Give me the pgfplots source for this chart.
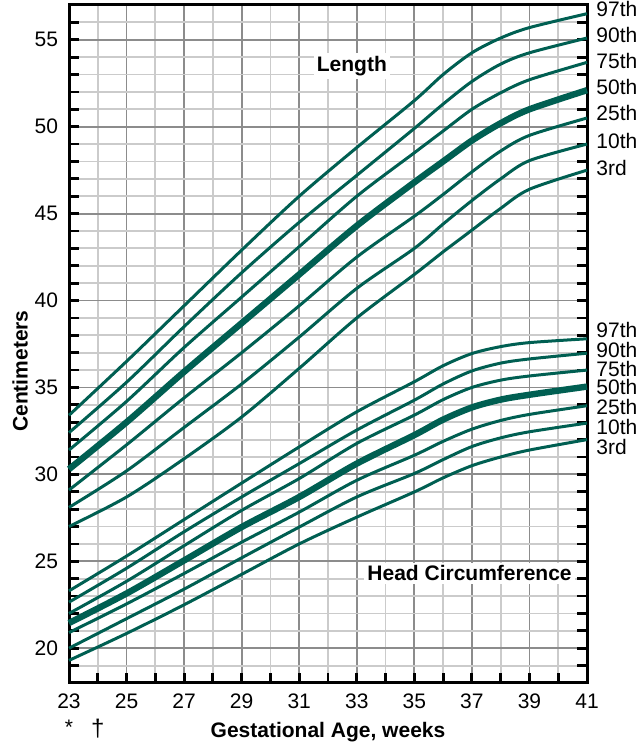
\documentclass[border=0pt]{standalone}
\usepackage{pgfplots}
\usepackage{pgfplotstable}
\pgfplotsset{compat=1.18}
\usepackage{fontspec}
\setmainfont{Liberation Sans}
\definecolor{curve}{HTML}{005F52}
\definecolor{gmajor}{HTML}{8C8C8C}
\definecolor{gminor}{HTML}{CBCBCB}

\pgfplotstableread{
wk p3 p10 p25 p50 p75 p90 p97
23 27.0 28.1 29.1 30.3 31.4 32.4 33.4
25 28.7 30.2 31.7 33.0 34.2 35.3 36.5
27 30.9 32.7 34.4 35.9 37.3 38.5 39.7
29 33.3 35.2 37.0 38.7 40.2 41.6 42.9
31 36.1 37.9 39.7 41.5 43.1 44.5 46.0
33 39.0 40.7 42.5 44.3 46.0 47.2 48.8
35 41.5 43.0 44.85 46.8 48.5 49.9 51.5
36 42.8 44.4 46.1 48.0 49.75 51.3 53.0
37 44.05 45.75 47.4 49.2 51.0 52.6 54.25
38 45.3 47.0 48.6 50.2 51.95 53.6 55.1
39 46.4 48.05 49.5 51.0 52.7 54.25 55.7
41 47.5 49.0 50.5 52.1 53.7 55.1 56.5
}\lengthtab

\pgfplotstableread{
wk p3 p10 p25 p50 p75 p90 p97
23 19.3 20.0 20.9 21.45 22.0 22.65 23.3
25 20.85 21.7 22.55 23.15 23.85 24.6 25.3
27 22.5 23.4 24.3 25.05 25.9 26.7 27.4
29 24.25 25.2 26.1 26.97 27.93 28.7 29.5
31 26.0 26.97 27.83 28.7 29.76 30.62 31.58
33 27.54 28.7 29.66 30.62 31.78 32.55 33.6
35 28.99 30.05 31.1 32.26 33.41 34.27 35.33
36 29.8 30.85 31.9 33.15 34.3 35.2 36.25
37 30.5 31.6 32.6 33.85 35.0 35.95 36.95
38 31.0 32.1 33.1 34.3 35.42 36.4 37.35
39 31.4 32.45 33.45 34.58 35.66 36.64 37.58
41 32.0 32.95 33.95 35.05 36.0 36.97 37.8
}\headtab

\begin{document}
\begin{tikzpicture}[font=\fontsize{10.5}{12}\selectfont]
\path[use as bounding box] (0,0) rectangle (318.5pt,371.5pt);
\begin{axis}[
  at={(34.5pt,30pt)}, anchor=south west,
  scale only axis, width=259pt, height=339pt,
  xmin=23, xmax=41, ymin=18, ymax=57,
  xtick={23,25,...,41}, minor xtick={24,26,...,40},
  ytick={20,25,...,55}, minor ytick={18,...,57},
  xtick pos=bottom, ytick pos=both,
  tick align=inside,
  major tick length=5pt, minor tick length=5pt,
  every tick/.style={black, line width=1.4pt},
  grid=both,
  major grid style={gmajor, line width=0.9pt},
  minor grid style={gminor, line width=0.9pt},
  axis line style={black, line width=1.5pt},
  /pgf/number format/assume math mode=true,
  ticklabel style={font=\fontsize{10.5}{12}\selectfont},
  yticklabel style={xshift=-2pt},
  xticklabel style={yshift=-2pt},
  xlabel={\textbf{Gestational Age, weeks}},
  ylabel={\textbf{Centimeters}},
  xlabel style={at={(rel axis cs:0.5,0)}, anchor=north, yshift=-16pt},
  ylabel style={at={(rel axis cs:0,0.46)}, anchor=south, yshift=17pt},
  clip=false,
]
\pgfplotsinvokeforeach{p3,p10,p25,p75,p90,p97}{
  \addplot[curve, line width=1.5pt, smooth, tension=0.5] table[x=wk, y=#1] {\lengthtab};
  \addplot[curve, line width=1.5pt, smooth, tension=0.5] table[x=wk, y=#1] {\headtab};
}
\addplot[curve, line width=3.2pt, smooth, tension=0.5] table[x=wk, y=p50] {\lengthtab};
\addplot[curve, line width=3.2pt, smooth, tension=0.5] table[x=wk, y=p50] {\headtab};

\node[fill=white, inner sep=1.5pt, font=\fontsize{10.5}{12}\selectfont\bfseries] at (axis cs:32.83,53.5) {Length};
\node[fill=white, inner sep=1.5pt, font=\fontsize{10.5}{12}\selectfont\bfseries] at (axis cs:36.92,24.3) {Head Circumference};

\node[anchor=west, inner sep=0pt, xshift=4.5pt] at (axis cs:41,56.77) {97th};
\node[anchor=west, inner sep=0pt, xshift=4.5pt] at (axis cs:41,55.27) {90th};
\node[anchor=west, inner sep=0pt, xshift=4.5pt] at (axis cs:41,53.77) {75th};
\node[anchor=west, inner sep=0pt, xshift=4.5pt] at (axis cs:41,52.27) {50th};
\node[anchor=west, inner sep=0pt, xshift=4.5pt] at (axis cs:41,50.77) {25th};
\node[anchor=west, inner sep=0pt, xshift=4.5pt] at (axis cs:41,49.2) {10th};
\node[anchor=west, inner sep=0pt, xshift=4.5pt] at (axis cs:41,47.65) {3rd};
\node[anchor=west, inner sep=0pt, xshift=4.5pt] at (axis cs:41,38.29) {97th};
\node[anchor=west, inner sep=0pt, xshift=4.5pt] at (axis cs:41,37.13) {90th};
\node[anchor=west, inner sep=0pt, xshift=4.5pt] at (axis cs:41,36.04) {75th};
\node[anchor=west, inner sep=0pt, xshift=4.5pt] at (axis cs:41,35.0) {50th};
\node[anchor=west, inner sep=0pt, xshift=4.5pt] at (axis cs:41,33.85) {25th};
\node[anchor=west, inner sep=0pt, xshift=4.5pt] at (axis cs:41,32.7) {10th};
\node[anchor=west, inner sep=0pt, xshift=4.5pt] at (axis cs:41,31.55) {3rd};
\node[inner sep=0pt, yshift=-22pt] at (axis cs:23,18) {*};
\node[inner sep=0pt, yshift=-23pt, font=\fontsize{12}{14}\selectfont] at (axis cs:24,18) {\dag};
\end{axis}
\end{tikzpicture}
\end{document}
